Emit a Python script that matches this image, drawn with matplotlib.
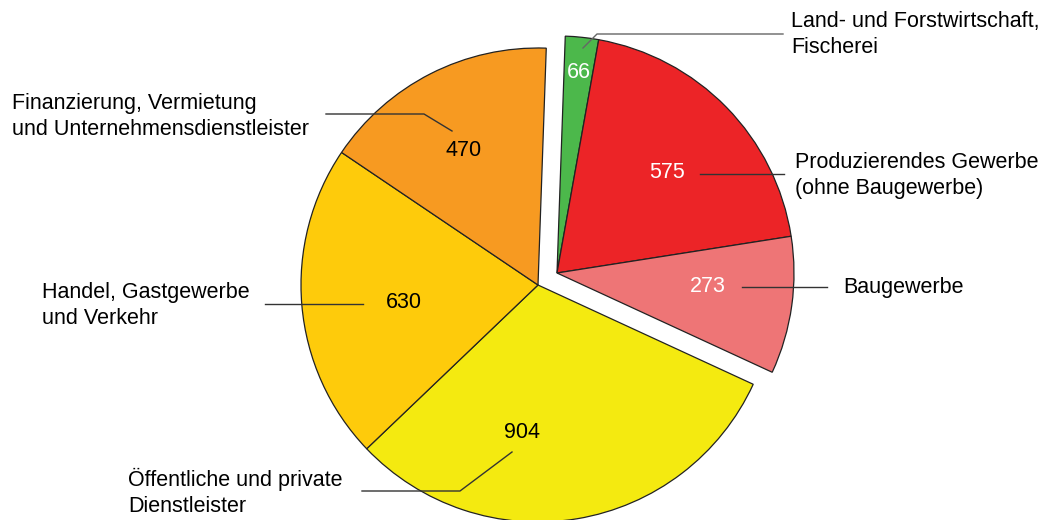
import matplotlib
matplotlib.use('Agg')
import matplotlib.pyplot as plt

plt.rcParams['font.family'] = ['Liberation Sans', 'DejaVu Sans']

# Werte (Anteile) im Uhrzeigersinn ab oben
sectors = ['Land- und Forstwirtschaft,\nFischerei',
           'Produzierendes Gewerbe\n(ohne Baugewerbe)',
           'Baugewerbe',
           'Öffentliche und private\nDienstleister',
           'Handel, Gastgewerbe\nund Verkehr',
           'Finanzierung, Vermietung\nund Unternehmensdienstleister']
values = [66, 575, 273, 904, 630, 470]
colors = ['#4cb84b', '#ec2427', '#ee7576', '#f4ea10', '#fecb0b', '#f79a21']
value_colors = ['white', 'white', 'white', 'black', 'black', 'black']
exploded = [True, True, True, False, False, False]

# layout in Pixel (y von unten)
W, H = 1047, 520
center = (538, 235)
radius = 237
shift = (19, 12)
value_pos = [(579, 448), (667, 347), (708, 234), (522, 88), (404, 218), (464, 369)]
label_pos = [(791, 485.5), (795, 344.5), (843, 232), (128, 27.5), (42, 214.5), (12, 403.5)]
leaders = [
    ([583, 597, 783], [472, 486, 486]),
    ([700, 784], [346, 346]),
    ([742, 827], [233, 233]),
    ([512, 460, 362], [68, 29, 29]),
    ([363, 265], [216, 216]),
    ([452, 424, 326], [389, 406, 406]),
]
leader_colors = ['#666666', '#333333', '#333333', '#333333', '#333333', '#333333']

fig = plt.figure(figsize=(W / 100, H / 100), dpi=100)
ax = fig.add_axes([0, 0, 1, 1])

wedges, _ = ax.pie(values, colors=colors, startangle=88, counterclock=False,
                   center=center, radius=radius, frame=True,
                   wedgeprops=dict(edgecolor='#222222', linewidth=0.9))
for w, ex in zip(wedges, exploded):
    if ex:
        w.set_center((center[0] + shift[0], center[1] + shift[1]))

for v, (x, y), c in zip(values, value_pos, value_colors):
    ax.text(x, y, str(v), ha='center', va='center', fontsize=15.5, color=c)

for (xs, ys), c in zip(leaders, leader_colors):
    ax.plot(xs, ys, color=c, lw=1)

for name, (x, y) in zip(sectors, label_pos):
    ax.text(x, y, name, ha='left', va='center', fontsize=15.5, color='black',
            linespacing=1.3)

ax.set_xlim(0, W)
ax.set_ylim(0, H)
ax.set_aspect('equal')
ax.axis('off')

fig.savefig('out.png', dpi=100)
